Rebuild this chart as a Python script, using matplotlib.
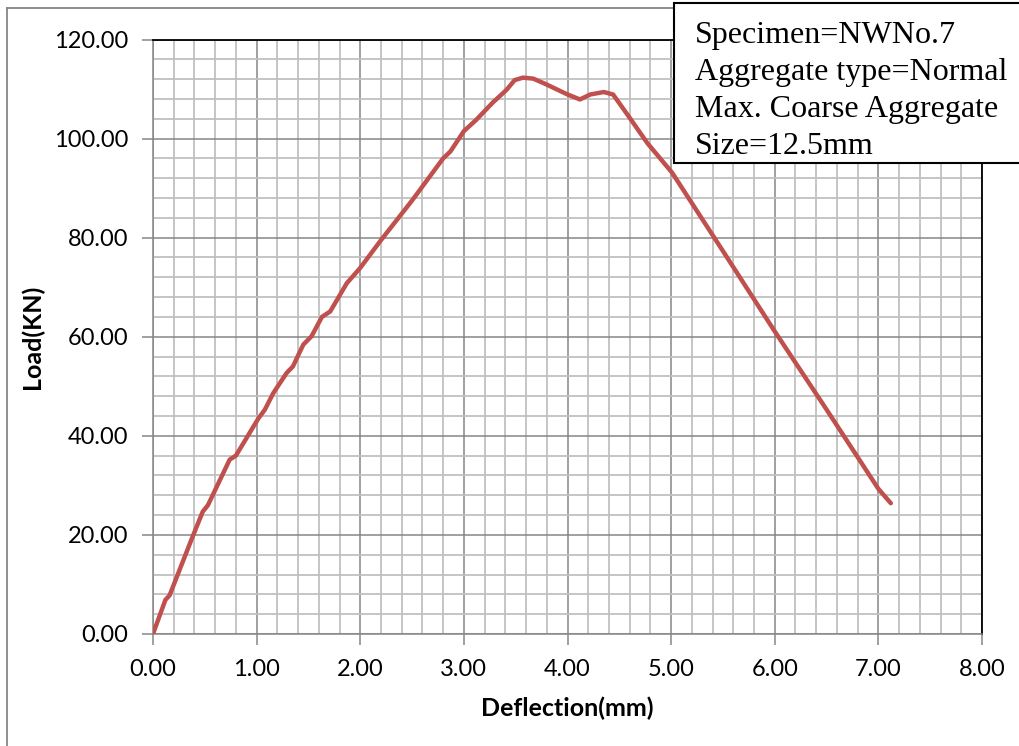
import matplotlib
matplotlib.use("Agg")
import matplotlib.pyplot as plt
from matplotlib.patches import Rectangle
from matplotlib.lines import Line2D
from matplotlib.ticker import MultipleLocator, FormatStrFormatter

# load-deflection curve
deflection = [0.00, 0.01, 0.12, 0.16, 0.37, 0.48, 0.53, 0.74, 0.80, 0.97, 1.02, 1.08,
              1.16, 1.29, 1.35, 1.45, 1.53, 1.63, 1.71, 1.87, 2.00, 2.20, 2.50, 2.80,
              2.87, 3.00, 3.12, 3.28, 3.41, 3.49, 3.57, 3.67, 3.80, 3.99, 4.12, 4.22,
              4.35, 4.44, 4.60, 4.77, 5.01, 5.50, 5.99, 6.50, 7.00, 7.12]
load = [0.0, 0.6, 6.9, 7.8, 19.0, 24.7, 26.0, 35.2, 36.0, 41.9, 43.6, 45.3,
        48.6, 52.7, 54.0, 58.4, 60.1, 64.0, 65.1, 70.8, 73.9, 79.5, 87.5, 96.0,
        97.4, 101.5, 103.8, 107.3, 109.8, 111.8, 112.3, 112.1, 110.9, 109.0, 107.9, 108.9,
        109.4, 108.9, 104.2, 99.1, 93.1, 77.3, 61.4, 45.3, 29.3, 26.4]

note = "Specimen=NWNo.7\nAggregate type=Normal\nMax. Coarse Aggregate\nSize=12.5mm"

W, H = 1019, 746
fig = plt.figure(figsize=(W / 100, H / 100), dpi=100)
ax = fig.add_axes([153 / W, 1 - 634 / H, (982 - 153) / W, (634 - 39.5) / H])

ax.set_xlim(0, 8)
ax.set_ylim(0, 120)
ax.xaxis.set_major_locator(MultipleLocator(1))
ax.xaxis.set_minor_locator(MultipleLocator(0.2))
ax.yaxis.set_major_locator(MultipleLocator(20))
ax.yaxis.set_minor_locator(MultipleLocator(4))
ax.xaxis.set_major_formatter(FormatStrFormatter("%.2f"))
ax.yaxis.set_major_formatter(FormatStrFormatter("%.2f"))

ax.grid(which="minor", color="#c0c0c0", linewidth=1.3)
ax.grid(which="major", color="#868686", linewidth=1.1)
ax.set_axisbelow(True)

ax.plot(deflection, load, color="#c0504d", linewidth=3.2, solid_capstyle="round",
        solid_joinstyle="round", zorder=3)

for lab in ax.get_xticklabels() + ax.get_yticklabels():
    lab.set_fontfamily("Lato")
    lab.set_fontsize(17)
ax.tick_params(which="major", length=8, width=1.1, color="#868686", pad=10)
ax.tick_params(axis="x", which="major", pad=10)
ax.tick_params(which="minor", length=0)

for side in ["left", "bottom"]:
    ax.spines[side].set_color("#868686")
    ax.spines[side].set_linewidth(1.1)
for side in ["top", "right"]:
    ax.spines[side].set_color("black")
    ax.spines[side].set_linewidth(1.3)

ax.set_xlabel("Deflection(mm)", fontfamily="Lato", fontweight="bold", fontsize=18, labelpad=12)
ax.set_ylabel("Load(KN)", fontfamily="Lato", fontweight="bold", fontsize=18, labelpad=7)

# outer chart frame (left and top edges visible)
fig.add_artist(Line2D([7 / W, 7 / W], [0, 1 - 8 / H], color="#868686", linewidth=1.3,
                      transform=fig.transFigure))
fig.add_artist(Line2D([7 / W, 1], [1 - 8 / H, 1 - 8 / H], color="#868686", linewidth=1.3,
                      transform=fig.transFigure))

# annotation box, runs past the right edge
fig.add_artist(Rectangle((674 / W, 1 - 163 / H), (W + 20 - 674) / W, (163 - 3) / H,
                         transform=fig.transFigure, facecolor="white", edgecolor="black",
                         linewidth=1.5, zorder=10))
fig.text(695 / W, 1 - 21 / H, note, family="Liberation Serif", fontsize=23,
         va="top", ha="left", linespacing=1.36, zorder=11)

fig.savefig("out.png", dpi=100)
